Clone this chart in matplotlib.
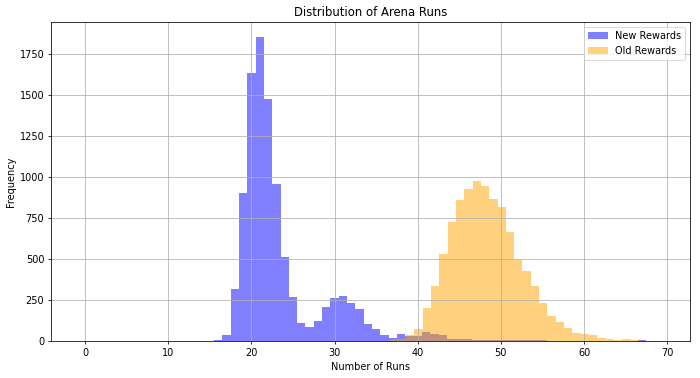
import numpy as np
import matplotlib
matplotlib.use("Agg")
import matplotlib.pyplot as plt

# Bin counts (unit-width bins)
new_start = 14.5
new_counts = [1, 8, 35, 315, 901, 1634, 1854, 1477, 958, 511, 270, 108, 88, 122,
              206, 261, 277, 234, 193, 104, 75, 37, 20, 45, 33, 33, 53, 43, 37,
              12, 12, 10, 8, 6, 5, 5, 7, 5, 4, 3, 3, 2, 2, 2, 1, 1, 1, 1, 1, 1,
              1, 1, 3, 2, 1]
old_start = 36.6
old_counts = [3, 10, 37, 71, 204, 338, 529, 728, 861, 928, 978, 948, 869, 820,
              667, 496, 428, 336, 233, 155, 113, 79, 50, 43, 37, 16, 10, 6, 10,
              4, 2, 2, 1]

labels = ["New Rewards", "Old Rewards"]
title = "Distribution of Arena Runs"
xlabel = "Number of Runs"
ylabel = "Frequency"

new_edges = new_start + np.arange(len(new_counts) + 1)
old_edges = old_start + np.arange(len(old_counts) + 1)

fig, ax = plt.subplots(figsize=(10, 5.4), dpi=70)
ax.hist(new_edges[:-1] + 0.5, bins=new_edges, weights=new_counts,
        color="blue", alpha=0.5, label=labels[0])
ax.hist(old_edges[:-1] + 0.5, bins=old_edges, weights=old_counts,
        color="orange", alpha=0.5, label=labels[1])
ax.set_title(title)
ax.set_xlabel(xlabel)
ax.set_ylabel(ylabel)
ax.legend(loc="upper right")
ax.grid(True)
ax.set_xlim(-4.09, 72.77)
ax.set_ylim(0, 1946)
fig.subplots_adjust(left=0.073, right=0.986, top=0.941, bottom=0.098)
fig.savefig("out.png", dpi=70)
